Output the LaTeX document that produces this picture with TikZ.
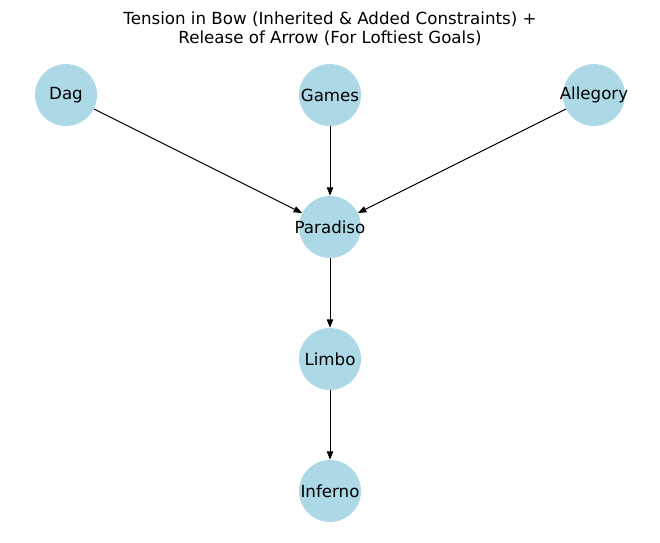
\documentclass[tikz,border=0pt]{standalone}
\usepackage{fontspec}
\setmainfont{DejaVu Sans}
\usetikzlibrary{arrows.meta}
\definecolor{nodeblue}{HTML}{ADD8E6}
\tikzset{
  vert/.style={circle, fill=nodeblue, draw=none, minimum size=44.6pt, inner sep=0pt},
  vlabel/.style={font=\fontsize{12pt}{14pt}\selectfont, inner sep=0pt},
  edge/.style={draw=black, line width=0.72pt, -{Triangle[length=6pt,width=4.6pt]}}
}
\begin{document}
\begin{tikzpicture}[x=0.72pt,y=-0.72pt]
\useasboundingbox (0,0) rectangle (660,543);
\node[vlabel, align=center] (title) at (330,29) {Tension in Bow (Inherited \& Added Constraints) +\\Release of Arrow (For Loftiest Goals)};
\node[vert, label={[vlabel]center:Dag}] (dag) at (66,95) {};
\node[vert, label={[vlabel]center:Games}] (games) at (330,95) {};
\node[vert, label={[vlabel]center:Allegory}] (allegory) at (594,95) {};
\node[vert, label={[vlabel]center:Paradiso}] (paradiso) at (330,227) {};
\node[vert, label={[vlabel]center:Limbo}] (limbo) at (330,359) {};
\node[vert, label={[vlabel]center:Inferno}] (inferno) at (330,491) {};
\draw[edge] (dag) -- (paradiso);
\draw[edge] (games) -- (paradiso);
\draw[edge] (allegory) -- (paradiso);
\draw[edge] (paradiso) -- (limbo);
\draw[edge] (limbo) -- (inferno);
\end{tikzpicture}
\end{document}
